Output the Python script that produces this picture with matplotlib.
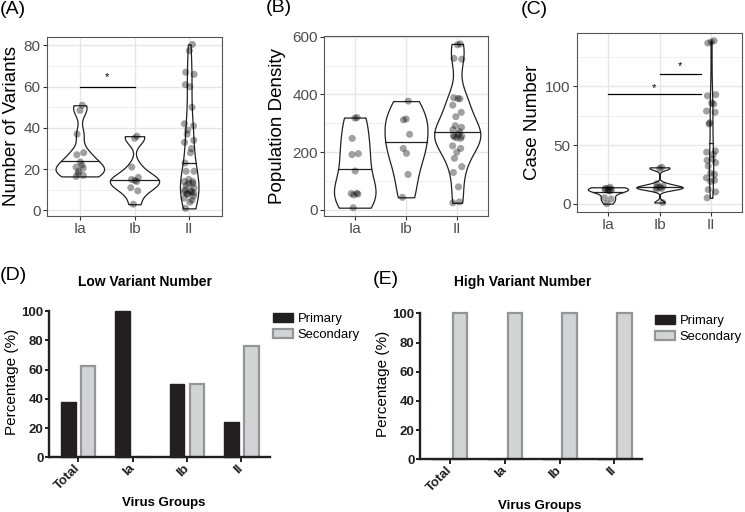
import numpy as np
import matplotlib
matplotlib.use('Agg')
import matplotlib.pyplot as plt
from matplotlib.patches import Patch

plt.rcParams['font.family'] = ['Liberation Sans', 'DejaVu Sans']

# ---------------- data ----------------
violin_groups = ['Ia', 'Ib', 'II']

variants_Ia = [51, 48.5, 37, 28, 27, 23.5, 22, 21, 20.5, 19, 18, 17, 16.5]
variants_Ib = [36, 35, 21, 16, 15, 14.5, 14, 11, 9.5, 3]
variants_II = [80.5, 77.5, 67, 66, 61, 60, 50, 42, 41, 39, 37, 34, 33, 30, 28, 23,
               19, 19, 15, 14, 14, 13, 13, 12, 11, 10, 9.5, 9, 9, 8.5, 8, 8, 7, 6,
               5, 4, 1]

density_Ia = [320, 318, 248, 195, 192, 135, 58, 57, 55, 52, 8]
density_Ib = [377, 315, 312, 262, 213, 196, 123, 44]
density_II = [575, 572, 525, 522, 389, 386, 385, 363, 338, 323, 292, 286, 278, 271,
              262, 258, 255, 253, 250, 248, 222, 213, 200, 179, 150, 130, 80, 28, 25]

cases_Ia = [14, 13, 13, 12, 12, 11, 11, 5, 4, 0]
cases_Ib = [31, 30, 17, 15, 14, 14, 13, 12, 1]
cases_II = [139, 138, 137, 93, 92, 86, 85, 79, 78, 69, 68, 45, 44, 42, 38, 37, 35,
            32, 26, 25, 22, 20, 19, 12, 10, 5]

bar_groups = ['Total', 'Ia', 'Ib', 'II']
low_primary = [37.5, 100, 50, 24]
low_secondary = [62.5, 0, 50, 76]
high_primary = [0, 0, 0, 0]
high_secondary = [100, 100, 100, 100]

# ---------------- helpers ----------------
def nrd0(y):
    y = np.asarray(y, float)
    sd = y.std(ddof=1)
    q75, q25 = np.percentile(y, [75, 25])
    lo = min(sd, (q75 - q25) / 1.34)
    if lo == 0:
        lo = sd if sd > 0 else 1.0
    return 0.9 * lo * len(y) ** -0.2


def kde(y, n=512):
    y = np.asarray(y, float)
    bw = nrd0(y)
    grid = np.linspace(y.min(), y.max(), n)
    d = np.exp(-0.5 * ((grid[:, None] - y[None, :]) / bw) ** 2).sum(1)
    d /= (len(y) * bw * np.sqrt(2 * np.pi))
    return grid, d


def jitter_offsets(n, amp):
    k = np.arange(n)
    return amp * np.sin(k * 2.4 + 0.7)


def violin_panel(ax, datasets, ylim, yticks, minor, ylabel, label_x, sig):
    dens = [kde(d) for d in datasets]
    dmax = max(d.max() for _, d in dens)
    ax.set_xlim(0.4, 3.6)
    ax.set_ylim(*ylim)
    for v in yticks:
        ax.axhline(v, color='#E6E6E6', lw=1.0, zorder=0)
    for v in minor:
        ax.axhline(v, color='#EEEEEE', lw=0.6, zorder=0)
    for i in range(1, 4):
        ax.axvline(i, color='#E6E6E6', lw=1.0, zorder=0)
    for i, ((g, d), data) in enumerate(zip(dens, datasets)):
        x = i + 1
        hw = 0.45 * d / dmax
        ax.fill_betweenx(g, x - hw, x + hw, facecolor='white',
                         edgecolor='#222222', lw=0.9, zorder=2)
        cdf = np.cumsum(d) / d.sum()
        ymed = np.interp(0.5, cdf, g)
        wmed = np.interp(ymed, g, hw)
        ax.plot([x - wmed, x + wmed], [ymed, ymed], color='#222222', lw=0.9, zorder=3)
        offs = jitter_offsets(len(data), 0.07 if i < 2 else 0.09)
        ax.scatter(x + offs, data, s=26, color='black', alpha=0.37,
                   edgecolors='none', zorder=4)
    for (x0, x1, yl, ys) in sig:
        ax.plot([x0, x1], [yl, yl], color='black', lw=0.9, zorder=5)
        ax.text((x0 + x1) / 2, ys, '*', ha='center', va='center', fontsize=8, zorder=5)
    ax.set_xticks([1, 2, 3])
    ax.set_xticklabels(violin_groups)
    ax.set_yticks(yticks)
    ax.set_yticklabels([str(v) for v in yticks])
    ax.tick_params(axis='both', colors='#333333', labelcolor='#4D4D4D',
                   labelsize=11, length=3, width=0.8, pad=1.5)
    for s in ax.spines.values():
        s.set_color('#555555')
        s.set_linewidth(0.8)
    ax.set_ylabel(ylabel, fontsize=13.5, va='center')
    ax.yaxis.set_label_coords(label_x, 0.5)


fig = plt.figure(figsize=(7.45, 5.12), dpi=100)
W, H = 745.0, 512.0


def axes_px(x0, y0, x1, y1):
    return fig.add_axes([x0 / W, 1 - y1 / H, (x1 - x0) / W, (y1 - y0) / H])


# ---------------- top panels ----------------
axA = axes_px(47, 37, 222, 216)
violin_panel(axA, [variants_Ia, variants_Ib, variants_II], (-2.7, 84.1),
             [0, 20, 40, 60, 80], [10, 30, 50, 70], 'Number of Variants', -0.202,
             [(1, 2, 60, 64.8)])

axB = axes_px(324, 36, 488, 216)
violin_panel(axB, [density_Ia, density_Ib, density_II], (-20.8, 602.4),
             [0, 200, 400, 600], [100, 300, 500], 'Population Density', -0.285, [])

axC = axes_px(577, 33, 742, 212)
violin_panel(axC, [cases_Ia, cases_Ib, cases_II], (-7.1, 145.6),
             [0, 50, 100], [25, 75, 125], 'Case Number', -0.267,
             [(1, 2.8, 93.5, 98.6), (2, 2.8, 110.8, 117)])

fig.text(0 / W, 1 - 9 / H, '(A)', fontsize=14, va='center', ha='left')
fig.text(266 / W, 1 - 8 / H, '(B)', fontsize=14, va='center', ha='left')
fig.text(521 / W, 1 - 9 / H, '(C)', fontsize=14, va='center', ha='left')

# ---------------- bottom panels ----------------
PRIM = '#231F20'
SEC_FILL = '#D1D3D4'
SEC_EDGE = '#939598'


def bar_panel(ax, prim, sec, title, title_xy, xlabel_xy, ylabel_xy, legend_xy, xlim):
    x = np.arange(len(bar_groups))
    ax.bar(x - 0.184, prim, width=0.27, color=PRIM, edgecolor=PRIM, lw=1.0,
           clip_on=False, zorder=2)
    ax.bar(x + 0.184, sec, width=0.26, color=SEC_FILL, edgecolor=SEC_EDGE, lw=1.6,
           clip_on=False, zorder=2)
    ax.set_xlim(*xlim)
    ax.set_ylim(0, 100)
    ax.set_yticks([0, 20, 40, 60, 80, 100])
    ax.set_xticks(x)
    ax.set_xticklabels(bar_groups, rotation=45, ha='right', va='center',
                       rotation_mode='anchor', fontweight='bold', fontsize=9.5)
    for lab in ax.get_yticklabels():
        lab.set_fontweight('bold')
    ax.tick_params(axis='y', labelsize=9.5, length=3, width=1.4, pad=1, colors=PRIM)
    ax.tick_params(axis='x', length=3.5, width=1.4, pad=3, colors=PRIM)
    for side in ['top', 'right']:
        ax.spines[side].set_visible(False)
    for side in ['left', 'bottom']:
        ax.spines[side].set_linewidth(1.7)
        ax.spines[side].set_color(PRIM)
        ax.spines[side].set_zorder(3)
    fig.text(title_xy[0] / W, 1 - title_xy[1] / H, title, ha='center', va='center',
             fontweight='bold', fontsize=10)
    fig.text(xlabel_xy[0] / W, 1 - xlabel_xy[1] / H, 'Virus Groups', ha='center',
             va='center', fontweight='bold', fontsize=9.5)
    fig.text(ylabel_xy[0] / W, 1 - ylabel_xy[1] / H, 'Percentage (%)', rotation=90,
             ha='center', va='center', fontsize=11,
             family=['Liberation Sans Narrow', 'Liberation Sans', 'DejaVu Sans'])
    handles = [Patch(facecolor=PRIM, edgecolor=PRIM, lw=1.0),
               Patch(facecolor=SEC_FILL, edgecolor=SEC_EDGE, lw=1.6)]
    ax.legend(handles, ['Primary', 'Secondary'], loc='upper left',
              bbox_to_anchor=(legend_xy[0] / W, 1 - legend_xy[1] / H),
              bbox_transform=fig.transFigure, frameon=False, borderpad=0,
              borderaxespad=0, handlelength=1.5, handleheight=0.65,
              handletextpad=0.4, labelspacing=0.3, fontsize=9.4)


axD = axes_px(49.3, 311, 270, 457.3)
bar_panel(axD, low_primary, low_secondary, 'Low Variant Number', (144.7, 281.7),
          (164, 502.7), (12.3, 382), (273, 313), (-0.533, 3.524))

axE = axes_px(420, 313.3, 641.7, 459.3)
bar_panel(axE, high_primary, high_secondary, 'High Variant Number', (523, 282),
          (540, 505.7), (383, 384), (655, 315), (-0.547, 3.5))

fig.text(0 / W, 1 - 275 / H, '(D)', fontsize=14, va='center', ha='left')
fig.text(373 / W, 1 - 279 / H, '(E)', fontsize=14, va='center', ha='left')

fig.savefig('out.png', dpi=100)
